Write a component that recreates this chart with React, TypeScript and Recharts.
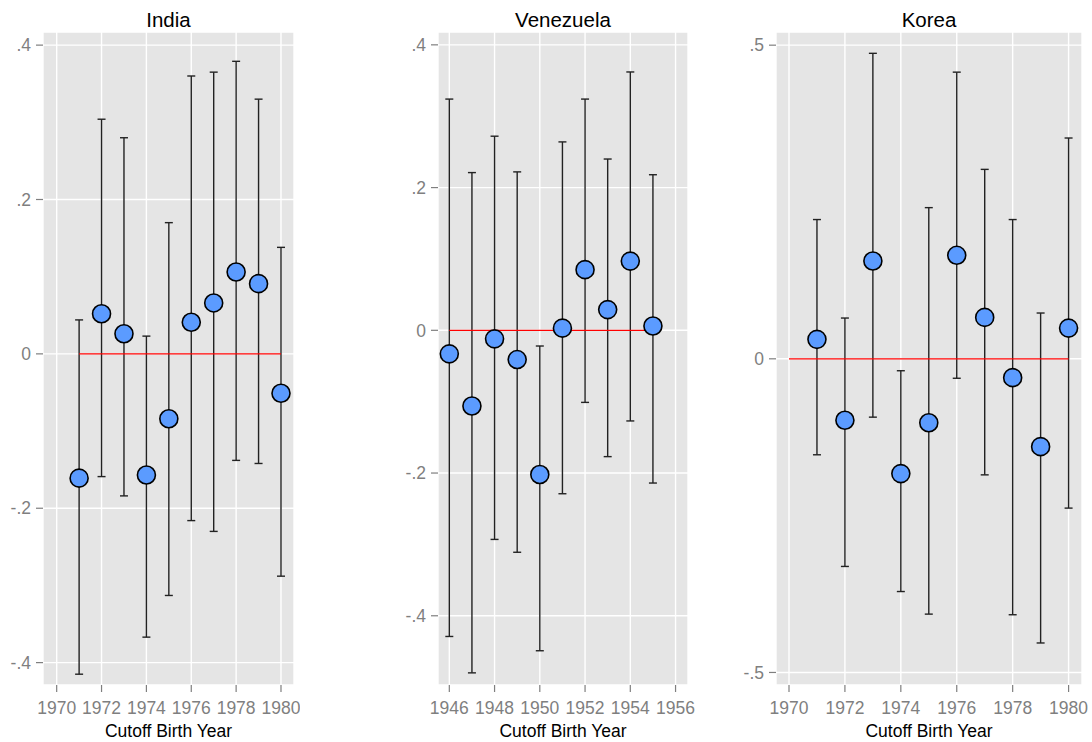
import React from "react";
import {
  CartesianGrid,
  ErrorBar,
  Scatter,
  ScatterChart,
  XAxis,
  YAxis,
} from "recharts";

// India
const indiaYears = [1971, 1972, 1973, 1974, 1975, 1976, 1977, 1978, 1979, 1980];
const indiaEst = [-0.161, 0.052, 0.026, -0.157, -0.084, 0.041, 0.066, 0.106, 0.091, -0.051];
const indiaLow = [-0.415, -0.159, -0.184, -0.367, -0.313, -0.216, -0.23, -0.138, -0.142, -0.288];
const indiaHigh = [0.044, 0.304, 0.28, 0.023, 0.17, 0.36, 0.365, 0.379, 0.33, 0.138];
const indiaXTicks = [1970, 1972, 1974, 1976, 1978, 1980];
const indiaYTicks = [-0.4, -0.2, 0, 0.2, 0.4];

// Venezuela
const venYears = [1946, 1947, 1948, 1949, 1950, 1951, 1952, 1953, 1954, 1955];
const venEst = [-0.033, -0.106, -0.012, -0.041, -0.202, 0.003, 0.085, 0.029, 0.097, 0.006];
const venLow = [-0.429, -0.48, -0.293, -0.311, -0.449, -0.229, -0.101, -0.177, -0.127, -0.214];
const venHigh = [0.324, 0.221, 0.272, 0.222, -0.022, 0.264, 0.324, 0.24, 0.362, 0.218];
const venXTicks = [1946, 1948, 1950, 1952, 1954, 1956];
const venYTicks = [-0.4, -0.2, 0, 0.2, 0.4];

// Korea
const koreaYears = [1971, 1972, 1973, 1974, 1975, 1976, 1977, 1978, 1979, 1980];
const koreaEst = [0.031, -0.098, 0.156, -0.183, -0.102, 0.165, 0.066, -0.03, -0.14, 0.049];
const koreaLow = [-0.153, -0.331, -0.093, -0.371, -0.407, -0.031, -0.185, -0.408, -0.453, -0.238];
const koreaHigh = [0.222, 0.065, 0.487, -0.019, 0.241, 0.457, 0.302, 0.222, 0.073, 0.352];
const koreaXTicks = [1970, 1972, 1974, 1976, 1978, 1980];
const koreaYTicks = [-0.5, 0, 0.5];

const FONT = "'Liberation Sans', Arial, sans-serif";
const GREY = "#7f7f7f";

const fmtY = (v: number) => {
  if (v === 0) return "0";
  return (v < 0 ? "-" : "") + String(Math.abs(v)).replace(/^0/, "");
};

const Dot = (props: any) => {
  const { cx, cy } = props;
  if (cx == null || cy == null) return <g />;
  return <circle cx={cx} cy={cy} r={9} fill="#5b9bff" stroke="#000" strokeWidth={1.6} />;
};

const NoDot = () => <g />;

interface PanelProps {
  title: string;
  years: number[];
  est: number[];
  low: number[];
  high: number[];
  xTicks: number[];
  yTicks: number[];
  xDomain: [number, number];
  yDomain: [number, number];
  zeroFrom: number;
  zeroTo: number;
  left: number;
  width: number;
  axisWidth: number;
  marginRight: number;
}

function Panel(p: PanelProps) {
  const data = p.years.map((year, i) => ({
    year,
    est: p.est[i],
    err: [p.est[i] - p.low[i], p.high[i] - p.est[i]],
  }));
  const zeroLine = [
    { year: p.zeroFrom, est: 0 },
    { year: p.zeroTo, est: 0 },
  ];
  const plotLeft = p.axisWidth;
  const plotWidth = p.width - p.axisWidth - p.marginRight;

  return (
    <div style={{ position: "absolute", left: p.left, top: 0, width: p.width, height: 742 }}>
      <div
        style={{
          position: "absolute",
          left: plotLeft,
          width: plotWidth,
          top: 8,
          textAlign: "center",
          fontSize: 20.5,
          lineHeight: "24px",
          color: "#000",
        }}
      >
        {p.title}
      </div>
      <ScatterChart
        width={p.width}
        height={742}
        margin={{ top: 32, right: p.marginRight, bottom: 0, left: 0 }}
      >
        <CartesianGrid fill="#e5e5e5" stroke="#ffffff" strokeWidth={1.4} />
        <XAxis
          type="number"
          dataKey="year"
          domain={p.xDomain}
          ticks={p.xTicks}
          allowDataOverflow
          height={57}
          axisLine={false}
          tickSize={7}
          tickMargin={10}
          tickLine={{ stroke: GREY, strokeWidth: 1.2 }}
          tick={{ fill: GREY, fontSize: 17.5, fontFamily: FONT }}
          label={{
            value: "Cutoff Birth Year",
            position: "insideBottom",
            offset: 5,
            fill: "#000",
            fontSize: 17.5,
            fontFamily: FONT,
          }}
        />
        <YAxis
          type="number"
          dataKey="est"
          domain={p.yDomain}
          ticks={p.yTicks}
          allowDataOverflow
          width={p.axisWidth}
          axisLine={false}
          tickSize={7}
          tickMargin={5}
          tickFormatter={fmtY}
          tickLine={{ stroke: GREY, strokeWidth: 1.2 }}
          tick={{ fill: GREY, fontSize: 17.5, fontFamily: FONT }}
        />
        <Scatter
          data={zeroLine}
          line={{ stroke: "#ff0000", strokeWidth: 1.3 }}
          shape={NoDot}
          isAnimationActive={false}
        />
        <Scatter data={data} shape={Dot} isAnimationActive={false}>
          <ErrorBar
            dataKey="err"
            direction="y"
            width={4}
            stroke="#222"
            strokeWidth={1.4}
            isAnimationActive={false}
          />
        </Scatter>
      </ScatterChart>
    </div>
  );
}

export default function App() {
  return (
    <div
      style={{
        position: "absolute",
        left: 0,
        top: 0,
        width: 1092,
        height: 742,
        background: "#fff",
        fontFamily: FONT,
      }}
    >
      <Panel
        title="India"
        years={indiaYears}
        est={indiaEst}
        low={indiaLow}
        high={indiaHigh}
        xTicks={indiaXTicks}
        yTicks={indiaYTicks}
        xDomain={[1969.39, 1980.58]}
        yDomain={[-0.429, 0.417]}
        zeroFrom={1971}
        zeroTo={1980}
        left={0}
        width={300}
        axisWidth={43}
        marginRight={6}
      />
      <Panel
        title="Venezuela"
        years={venYears}
        est={venEst}
        low={venLow}
        high={venHigh}
        xTicks={venXTicks}
        yTicks={venYTicks}
        xDomain={[1945.5, 1956.55]}
        yDomain={[-0.497, 0.418]}
        zeroFrom={1946}
        zeroTo={1955}
        left={390}
        width={305}
        axisWidth={48}
        marginRight={7}
      />
      <Panel
        title="Korea"
        years={koreaYears}
        est={koreaEst}
        low={koreaLow}
        high={koreaHigh}
        xTicks={koreaXTicks}
        yTicks={koreaYTicks}
        xDomain={[1969.535, 1980.48]}
        yDomain={[-0.52, 0.521]}
        zeroFrom={1970}
        zeroTo={1980}
        left={730}
        width={362}
        axisWidth={46}
        marginRight={10}
      />
    </div>
  );
}
